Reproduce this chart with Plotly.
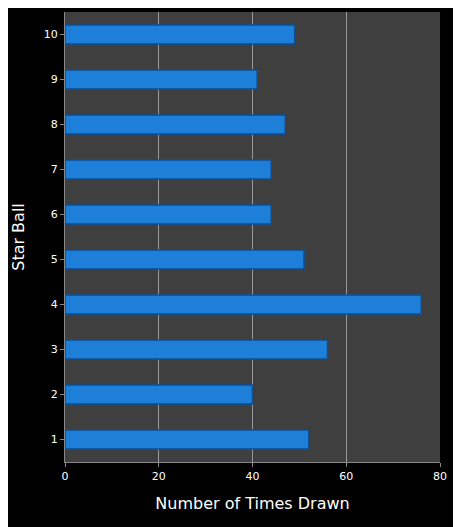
import plotly.graph_objects as go

star_balls = ["1","2","3","4","5","6","7","8","9","10"]
times_drawn = [52, 40, 56, 76, 51, 44, 44, 47, 41, 49]

fig = go.Figure(go.Bar(
    x=times_drawn, y=star_balls, orientation="h",
    width=0.42,
    marker=dict(color="#1e7fd8", line=dict(color="#0b4f96", width=1.5)),
))
fig.update_layout(
    width=461, height=527,
    paper_bgcolor="black", plot_bgcolor="#3f3f3f",
    margin=dict(l=57, r=29, t=4, b=73),
    font=dict(family="DejaVu Sans", color="white", size=11),
    showlegend=False,
    xaxis=dict(range=[0, 80], dtick=20, showgrid=True, gridcolor="#9a9a9a", gridwidth=1,
               zeroline=False, ticks="outside", tickcolor="#888", ticklen=4, automargin=False,
               title=dict(text="Number of Times Drawn", font=dict(size=16)),
               linecolor="#888", showline=True),
    yaxis=dict(type="category", showgrid=False, ticks="outside", tickcolor="#888", ticklen=4,
               automargin=False,
               title=dict(text="Star Ball", font=dict(size=16)),
               linecolor="#888", showline=True),
)
fig.write_html("out.html")
